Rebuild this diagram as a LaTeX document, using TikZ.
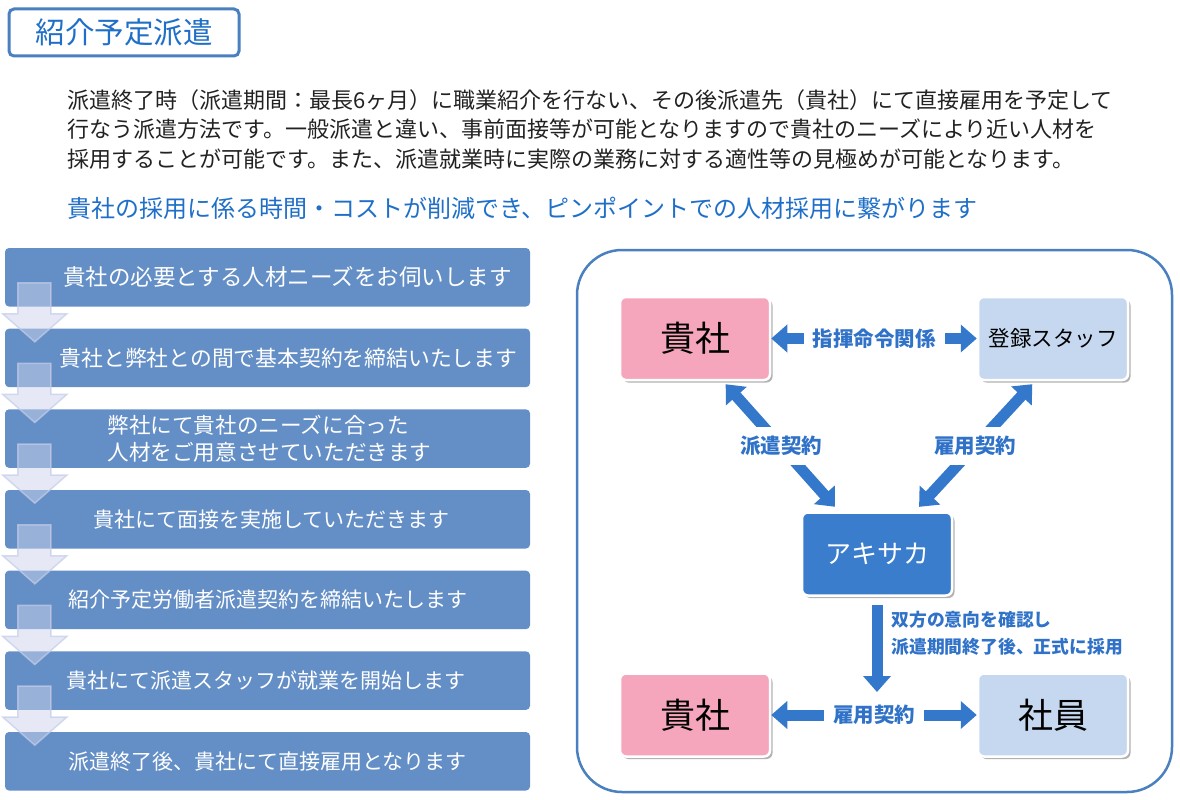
\documentclass[tikz,border=0pt]{standalone}
\usepackage{fontspec}
\setmainfont{Noto Sans CJK JP}
\usetikzlibrary{arrows.meta,shadows}
\definecolor{titleblue}{HTML}{1F6FC8}
\definecolor{bodytext}{HTML}{222222}
\definecolor{stepfill}{HTML}{648FC6}
\definecolor{arrowfill}{HTML}{CDD3EC}
\definecolor{arrowline}{HTML}{C4CCE8}
\definecolor{panelline}{HTML}{4A80C0}
\definecolor{kishapink}{HTML}{F5A6BC}
\definecolor{staffblue}{HTML}{C6D8F0}
\definecolor{akiblue}{HTML}{3A7DCD}
\definecolor{linkblue}{HTML}{3478CC}
\definecolor{lblblue}{HTML}{2F72C8}
\tikzset{
  stepbox/.style={fill=stepfill,rounded corners=4pt,minimum width=525pt,minimum height=58.5pt,inner sep=0pt},
  steptext/.style={text=white,align=left,inner sep=0pt},
  steparrow/.style={fill=arrowfill,draw=arrowline,line width=1.5pt,fill opacity=0.5,draw opacity=0.7},
  party/.style={draw=white,line width=2.5pt,rounded corners=6pt,minimum width=150pt,minimum height=83pt,
    drop shadow={shadow xshift=2.5pt,shadow yshift=-2.5pt,opacity=0.3,fill=black}},
  bigarrow/.style={draw=linkblue,line width=11pt,>={Triangle[width=27pt,length=16pt]}},
  lbl/.style={text=lblblue,fill=white,font=\bfseries\fontsize{20.5}{24}\selectfont,inner xsep=9pt,inner ysep=6pt}
}
\begin{document}
\begin{tikzpicture}[x=1pt,y=-1pt]
\useasboundingbox (0,0) rectangle (1180,800);
% heading
\node[draw=panelline,line width=3pt,rounded corners=5pt,minimum width=230pt,minimum height=47pt,
  text=titleblue,font=\fontsize{29.5}{33}\selectfont] (title) at (124,32.5) {紹介予定派遣};
\node[anchor=west,text=bodytext,align=left,inner sep=0pt,font=\fontsize{22}{29.3}\selectfont] (intro) at (67,129.5)
  {派遣終了時（派遣期間：最長6ヶ月）に職業紹介を行ない、その後派遣先（貴社）にて直接雇用を予定して\\
   行なう派遣方法です。一般派遣と違い、事前面接等が可能となりますので貴社のニーズにより近い人材を\\
   採用することが可能です。また、派遣就業時に実際の業務に対する適性等の見極めが可能となります。};
\node[anchor=west,text=titleblue,inner sep=0pt,font=\fontsize{24}{28}\selectfont] (point) at (67,208)
  {貴社の採用に係る時間・コストが削減でき、ピンポイントでの人材採用に繋がります};
% steps on the left
\foreach \i/\dx/\fs/\txt in {1/20/22.5/{貴社の必要とする人材ニーズをお伺いします},
  2/21/21.8/{貴社と弊社との間で基本契約を締結いたします},
  3/2/21.6/{弊社にて貴社のニーズに合った\\人材をご用意させていただきます},
  4/4/21/{貴社にて面接を実施していただきます},
  5/0/21/{紹介予定労働者派遣契約を締結いたします},
  6/-2/21/{貴社にて派遣スタッフが就業を開始します},
  7/0/21/{派遣終了後、貴社にて直接雇用となります}}{
  \node[stepbox] (step\i) at (267.5,{248+29.25+(\i-1)*80.67}) {};
  \node[steptext,font=\fontsize{\fs}{27}\selectfont] at ([xshift=\dx pt]step\i.center) {\txt};
}
\foreach \i in {1,...,6}
  \draw[steparrow,shift={(step\i.north west)}] (13,35) -- (46,35) -- (46,66) -- (62,66) -- (30,94)
    -- (-2,66) -- (13,66) -- cycle;
% relations on the right
\draw[panelline,line width=2.5pt,rounded corners=45pt] (577,250) rectangle (1172,792);
\node[party,fill=kishapink,font=\fontsize{35}{40}\selectfont] (kishaA) at (695,338.5) {貴社};
\node[party,fill=staffblue,font=\fontsize{21.5}{26}\selectfont] (staff) at (1053,338.5) {登録スタッフ};
\node[party,fill=akiblue,text=white,font=\fontsize{26}{30}\selectfont] (akisaka) at (877,554) {アキサカ};
\node[party,fill=kishapink,font=\fontsize{35}{40}\selectfont] (kishaB) at (695,715) {貴社};
\node[party,fill=staffblue,font=\fontsize{35}{40}\selectfont] (shain) at (1053,715) {社員};
\coordinate (hire) at (877,692);
\draw[bigarrow,<->] (kishaA) -- (staff) node[midway,lbl] {指揮命令関係};
\draw[bigarrow,<->,shorten <=4pt,shorten >=6pt] ([xshift=28pt]kishaA.south) -- ([xshift=-38pt]akisaka.north)
  node[midway,lbl,inner xsep=4pt,inner ysep=9pt] {派遣契約};
\draw[bigarrow,<->,shorten <=4pt,shorten >=6pt] ([xshift=-18pt]staff.south) -- ([xshift=38pt]akisaka.north)
  node[midway,lbl,inner xsep=4pt,inner ysep=9pt] {雇用契約};
\draw[bigarrow,->,shorten <=8pt] (akisaka.south) -- (hire)
  node[pos=0.38,right=7pt,text=lblblue,align=left,inner sep=2pt,font=\bfseries\fontsize{17.8}{27}\selectfont]
  {双方の意向を確認し\\派遣期間終了後、正式に採用};
\draw[bigarrow,<->] (kishaB) -- (shain) node[midway,lbl] {雇用契約};
\end{tikzpicture}
\end{document}
